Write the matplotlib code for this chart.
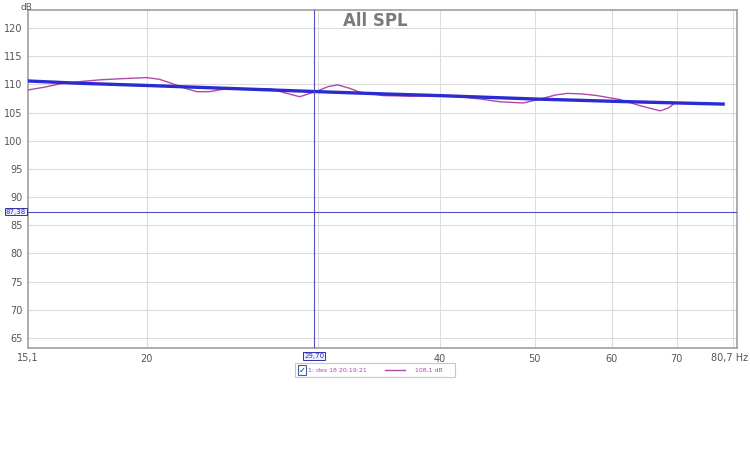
import matplotlib.pyplot as plt
from matplotlib.patches import Rectangle
from matplotlib.lines import Line2D

# magenta measured SPL curve (Hz, dB)
spl_freq = [15.1, 15.7, 16.3, 17.1, 17.9, 18.8, 20.0, 20.6, 21.1, 21.9, 22.5, 23.2,
            23.9, 25.2, 26.8, 27.7, 28.7, 29.9, 30.7, 31.4, 32.3, 33.1, 35.0, 37.3,
            40.0, 41.9, 44.0, 46.1, 48.7, 50.7, 52.5, 54.0, 56.0, 58.0, 61.2, 64.2,
            67.3, 68.6, 69.7]
spl_db = [109.0, 109.5, 110.1, 110.5, 110.8, 111.0, 111.2, 110.9, 110.3, 109.3, 108.7, 108.7,
          109.1, 109.2, 109.2, 108.5, 107.8, 108.8, 109.6, 109.9, 109.3, 108.6, 108.0, 107.9,
          108.0, 107.8, 107.4, 106.9, 106.7, 107.4, 108.1, 108.4, 108.3, 108.0, 107.3, 106.2,
          105.3, 105.8, 106.7]

# blue target line
tgt_freq = [15.1, 17.0, 20.0, 25.0, 30.0, 35.0, 40.0, 50.0, 60.0, 70.0, 78.1]
tgt_db = [110.6, 110.2, 109.8, 109.2, 108.7, 108.3, 108.0, 107.4, 107.0, 106.7, 106.5]

xticks = [20, 40, 50, 60, 70]
xgrid = [20, 30, 40, 50, 60, 70, 80]
yticks = [65, 70, 75, 80, 85, 90, 95, 100, 105, 110, 115, 120]
cursor_x = 29.70
cursor_y = 87.38

fig = plt.figure(figsize=(7.5, 4.71), dpi=100)
ax = fig.add_axes([0.0373, 0.2611, 0.9454, 0.7177])
ax.set_xscale('log')
ax.set_xlim(15.1, 80.7)
ax.set_ylim(63.2, 123.2)

for f in xgrid:
    ax.axvline(f, color='#dcdcdc', lw=0.8, zorder=0)
for v in yticks:
    ax.axhline(v, color='#dcdcdc', lw=0.8, zorder=0)

ax.plot(spl_freq, spl_db, color='#b04aa8', lw=1.0, zorder=3)
ax.plot(tgt_freq, tgt_db, color='#2b2bd0', lw=2.4, zorder=4)

ax.axvline(cursor_x, color='#5050c0', lw=0.8, zorder=5)
ax.axhline(cursor_y, color='#5050c0', lw=0.8, zorder=5)

ax.set_xticks(xticks)
ax.set_xticklabels([str(t) for t in xticks])
ax.set_xticks([], minor=True)
ax.set_yticks(yticks)
ax.tick_params(length=0, labelsize=7, colors='#555555', pad=4)
for s in ax.spines.values():
    s.set_color('#a0a0a0')
    s.set_linewidth(1.2)

fig.text(0.037, 0.262 - 0.011, '15,1', ha='center', va='top', fontsize=7, color='#555555')
fig.text(0.998, 0.262 - 0.011, '80,7 Hz', ha='right', va='top', fontsize=7, color='#555555')
fig.text(0.027, 0.993, 'dB', fontsize=6.5, color='#555555', ha='left', va='top')
fig.text(0.5, 0.955, 'All SPL', fontsize=12, fontweight='bold', color='#7a7a7a',
         ha='center', va='center')

# cursor readouts
ax.text(-0.003, cursor_y, '87,38', transform=ax.get_yaxis_transform(), ha='right', va='center',
        fontsize=5, color='#3030b0',
        bbox=dict(boxstyle='square,pad=0.1', fc='#eef0ff', ec='#3030b0', lw=0.7))
ax.text(cursor_x, -0.015, '29,70', transform=ax.get_xaxis_transform(), ha='center', va='top',
        fontsize=5, color='#3030b0',
        bbox=dict(boxstyle='square,pad=0.1', fc='#eef0ff', ec='#3030b0', lw=0.7))

# legend strip
fig.patches.append(Rectangle((0.393, 0.200), 0.213, 0.03, transform=fig.transFigure,
                             fc='white', ec='#c8c8c8', lw=0.8))
fig.patches.append(Rectangle((0.397, 0.204), 0.011, 0.02, transform=fig.transFigure,
                             fc='white', ec='#4060a0', lw=0.8))
fig.text(0.3985, 0.214, '\u2713', fontsize=6, color='#203080', ha='left', va='center')
fig.text(0.411, 0.214, '1: des 18 20:19:21', fontsize=4.5, color='#b04aa8', ha='left', va='center')
fig.lines.append(Line2D([0.513, 0.54], [0.214, 0.214], transform=fig.transFigure,
                        color='#b04aa8', lw=1.0))
fig.text(0.553, 0.214, '108,1 dB', fontsize=4.5, color='#b04aa8', ha='left', va='center')

fig.savefig('out.png', dpi=100)
